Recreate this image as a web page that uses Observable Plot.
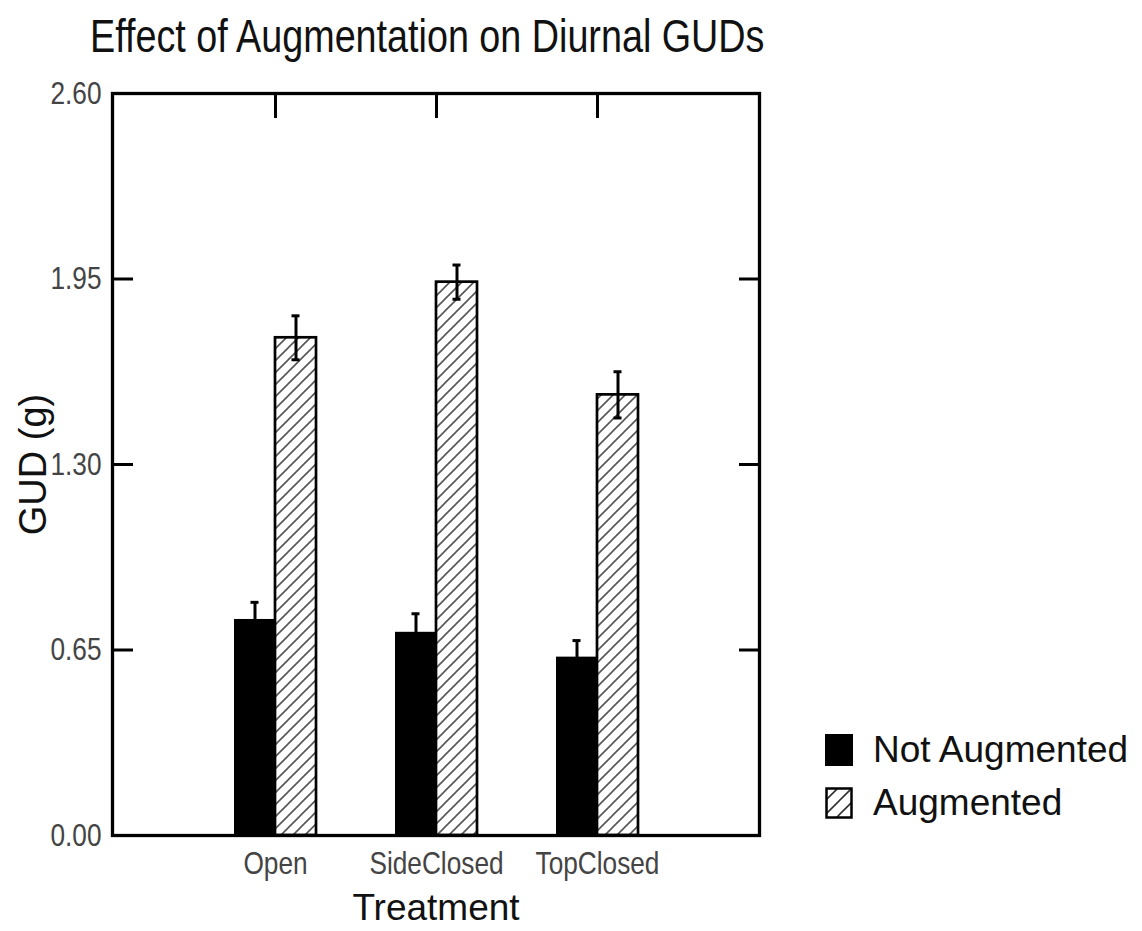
<!DOCTYPE html>
<html>
<head>
<meta charset="utf-8">
<script src="https://cdn.jsdelivr.net/npm/d3@7"></script>
<script src="https://cdn.jsdelivr.net/npm/@observablehq/plot@0.6"></script>
<style>
  html, body { margin: 0; padding: 0; background: #fff; }
  #wrap { position: relative; width: 1142px; height: 931px; overflow: hidden; }
  #title { position: absolute; left: 90px; top: 13px; font-family: "Liberation Sans", Arial, sans-serif; font-size: 46px; line-height: 1; color: #111; white-space: nowrap; transform: scaleX(0.82); transform-origin: 0 0; }
  #legend { position: absolute; left: 825px; top: 723px; font-family: "Liberation Sans", Arial, sans-serif; font-size: 37px; color: #111; }
  .item { display: flex; align-items: center; height: 53px; }
  .item svg { margin-right: 20px; }
  #chart { position: absolute; left: 0; top: 0; }
</style>
</head>
<body>
<div id="wrap">
  <div id="chart"></div>
  <div id="title">Effect of Augmentation on Diurnal GUDs</div>
  <div id="legend"></div>
</div>
<script>
// ---- data ----
const treatments = ["Open", "SideClosed", "TopClosed"];
const seriesNames = ["Not Augmented", "Augmented"];
const notAugmented = [0.757, 0.712, 0.625];
const notAugmentedSE = [0.060, 0.065, 0.058];
const augmented = [1.744, 1.939, 1.544];
const augmentedSE = [0.077, 0.060, 0.081];
const yTicks = [0.00, 0.65, 1.30, 1.95, 2.60];
const xLabel = "Treatment";
const yLabel = "GUD (g)";

// ---- layout ----
const W = 1142, H = 931;
const mTop = 93, mLeft = 112, mRight = 383, mBottom = 96;
const bandW = 82, half = bandW / 2, cap = 8;
const sans = '"Liberation Sans", Arial, sans-serif';
const narrowScale = 0.82;

const rowsN = treatments.map((t, i) => ({treatment: t, series: seriesNames[0], value: notAugmented[i], se: notAugmentedSE[i]}));
const rowsA = treatments.map((t, i) => ({treatment: t, series: seriesNames[1], value: augmented[i], se: augmentedSE[i]}));

const plot = Plot.plot({
  width: W, height: H,
  marginTop: mTop, marginLeft: mLeft, marginRight: mRight, marginBottom: mBottom,
  style: {background: "transparent", fontFamily: sans, overflow: "visible"},
  x: {type: "band", domain: treatments, paddingInner: 0.493, paddingOuter: 0.7465, label: null},
  y: {domain: [0, 2.6], label: null},
  marks: [
    Plot.barY(rowsN, {x: "treatment", y: "value", fill: "black", insetRight: half}),
    Plot.barY(rowsA, {x: "treatment", y: "value", fill: "url(#hatch)", stroke: "black", strokeWidth: 2.7, insetLeft: half}),
    Plot.ruleX(rowsN, {x: "treatment", y1: d => d.value - d.se, y2: d => d.value + d.se, dx: -half / 2, stroke: "black", strokeWidth: 3}),
    Plot.ruleX(rowsA, {x: "treatment", y1: d => d.value - d.se, y2: d => d.value + d.se, dx: half / 2, stroke: "black", strokeWidth: 3}),
    Plot.tickY(rowsN, {x: "treatment", y: d => d.value + d.se, insetLeft: half / 2 - cap / 2, insetRight: bandW - half / 2 - cap / 2, stroke: "black", strokeWidth: 3}),
    Plot.tickY(rowsA, {x: "treatment", y: d => d.value - d.se, insetLeft: half + half / 2 - cap / 2, insetRight: half / 2 - cap / 2, stroke: "black", strokeWidth: 3}),
    Plot.tickY(rowsA, {x: "treatment", y: d => d.value + d.se, insetLeft: half + half / 2 - cap / 2, insetRight: half / 2 - cap / 2, stroke: "black", strokeWidth: 3}),
    // inward ticks
    Plot.axisY({anchor: "left", ticks: yTicks, tickSize: 21, dx: 21, tickFormat: () => "", label: null, stroke: "black", strokeWidth: 3}),
    Plot.axisY({anchor: "right", ticks: yTicks, tickSize: 21, dx: -21, tickFormat: () => "", label: null, stroke: "black", strokeWidth: 3}),
    Plot.axisX({anchor: "top", tickSize: 24, dy: 24, tickFormat: () => "", label: null, stroke: "black", strokeWidth: 3}),
    // labels
    Plot.axisY({anchor: "left", ticks: yTicks, tickSize: 0, tickPadding: 11, tickFormat: d => d.toFixed(2), fontSize: 32, fill: "#444", label: null}),
    Plot.axisY({anchor: "left", ticks: [], label: yLabel, labelArrow: "none", labelAnchor: "center", labelOffset: 93, fontSize: 38, fill: "#111"}),
    Plot.axisX({anchor: "bottom", tickSize: 0, tickPadding: 16, fontSize: 32, fill: "#444", label: null}),
    Plot.axisX({anchor: "bottom", ticks: [], label: xLabel, labelAnchor: "center", labelOffset: 84, fontSize: 37, fill: "#111"}),
    Plot.frame({stroke: "black", strokeWidth: 3.3})
  ]
});

// hatch pattern definition
const ns = "http://www.w3.org/2000/svg";
const defs = document.createElementNS(ns, "defs");
defs.innerHTML = '<pattern id="hatch" patternUnits="userSpaceOnUse" width="12" height="12">' +
  '<rect width="12" height="12" fill="white"/>' +
  '<path d="M-3,3 l6,-6 M0,12 l12,-12 M9,15 l6,-6" stroke="#555" stroke-width="1.6"/></pattern>';
plot.insertBefore(defs, plot.firstChild);
document.getElementById("chart").appendChild(plot);

// condense tick labels (narrow face look), scaling about each label's anchor
function condense(el, anchor) {
  if (!el.textContent) return;
  const r = el.getBoundingClientRect();
  const parent = el.parentNode;
  const m = parent.getScreenCTM().inverse();
  const p = plot.createSVGPoint();
  p.x = anchor === "right" ? r.right : (r.left + r.right) / 2;
  p.y = (r.top + r.bottom) / 2;
  const q = p.matrixTransform(m);
  const g = document.createElementNS(ns, "g");
  g.setAttribute("transform", `translate(${q.x},0) scale(${narrowScale},1) translate(${-q.x},0)`);
  parent.insertBefore(g, el);
  g.appendChild(el);
}
const yLabs = [], xLabs = [];
d3.select(plot).selectAll('g[aria-label="y-axis tick label"] text').each(function () { yLabs.push(this); });
d3.select(plot).selectAll('g[aria-label="x-axis tick label"] text').each(function () { xLabs.push(this); });
yLabs.forEach(el => condense(el, "right"));
xLabs.forEach(el => condense(el, "center"));

// legend
const leg = document.getElementById("legend");
seriesNames.forEach((name, i) => {
  const item = document.createElement("div");
  item.className = "item";
  const sw = i === 0
    ? '<svg width="28" height="32"><rect width="28" height="32" fill="black"/></svg>'
    : '<svg width="28" height="32"><defs><pattern id="hatchL" patternUnits="userSpaceOnUse" width="14" height="14"><path d="M-3,3 l6,-6 M0,14 l14,-14 M11,17 l6,-6" stroke="#333" stroke-width="1.6"/></pattern></defs><rect x="1.5" y="1.5" width="25" height="29" fill="url(#hatchL)" stroke="black" stroke-width="2.5"/></svg>';
  item.innerHTML = sw + '<span>' + name + '</span>';
  leg.appendChild(item);
});
</script>
</body>
</html>
